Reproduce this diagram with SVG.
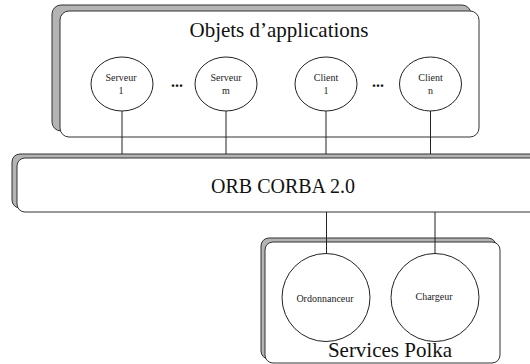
<svg xmlns="http://www.w3.org/2000/svg" width="530" height="364" viewBox="0 0 530 364">
<style>
.shadow{fill:#b4b4b4;stroke:#333;stroke-width:1}
.front{fill:#fff;stroke:#333;stroke-width:1}
.node{fill:#fff;stroke:#222;stroke-width:1}
.conn{stroke:#222;stroke-width:1;fill:none}
.big{font-family:"Liberation Serif","Times New Roman",serif;font-size:21px;fill:#111;text-anchor:middle}
.small{font-family:"Liberation Serif","Times New Roman",serif;font-size:10px;fill:#222;text-anchor:middle}
.dots{font-family:"Liberation Serif","Times New Roman",serif;font-size:16px;font-weight:bold;fill:#111;text-anchor:middle}
</style>
<rect width="530" height="364" fill="#fff"/>
<g id="objets-applications">
<rect class="shadow" x="52" y="5" width="419" height="126" rx="9"/>
<rect class="front" x="60" y="11" width="419" height="126" rx="9"/>
<text class="big" x="279" y="37">Objets d’applications</text>
<text class="dots" x="177" y="87">...</text>
<text class="dots" x="378" y="87">...</text>
</g>
<g id="orb">
<rect class="shadow" x="12" y="154" width="530" height="54" rx="8"/>
<rect class="front" x="17" y="158" width="530" height="54" rx="8"/>
<text class="big" x="283" y="193" style="font-size:20px">ORB CORBA 2.0</text>
</g>
<g id="services-polka">
<rect class="shadow" x="261" y="238" width="235" height="121" rx="8"/>
<rect class="front" x="265" y="242" width="235" height="121" rx="8"/>
<text class="big" x="390" y="357">Services Polka</text>
</g>
<g id="connectors">
<line class="conn" x1="122" y1="111" x2="122" y2="154"/>
<line class="conn" x1="226" y1="111" x2="226" y2="154"/>
<line class="conn" x1="326" y1="111" x2="326" y2="154"/>
<line class="conn" x1="430.5" y1="111" x2="430.5" y2="154"/>
<line class="conn" x1="326.5" y1="212" x2="326.5" y2="253"/>
<line class="conn" x1="435" y1="212" x2="435" y2="254"/>
</g>
<g id="serveur-1">
<ellipse class="node" cx="122" cy="84" rx="31" ry="27"/>
<text class="small" x="121" y="81">Serveur</text>
<text class="small" x="121" y="94">1</text>
</g>
<g id="serveur-m">
<ellipse class="node" cx="226" cy="84" rx="31" ry="27"/>
<text class="small" x="226" y="81">Serveur</text>
<text class="small" x="226" y="94">m</text>
</g>
<g id="client-1">
<ellipse class="node" cx="326" cy="84" rx="31" ry="27"/>
<text class="small" x="326" y="81">Client</text>
<text class="small" x="326" y="94">1</text>
</g>
<g id="client-n">
<ellipse class="node" cx="430.5" cy="84" rx="31" ry="27"/>
<text class="small" x="430.5" y="81">Client</text>
<text class="small" x="430.5" y="94">n</text>
</g>
<g id="ordonnanceur">
<circle class="node" cx="326" cy="297.5" r="44"/>
<text class="small" x="325" y="302">Ordonnanceur</text>
</g>
<g id="chargeur">
<circle class="node" cx="435" cy="297.5" r="44"/>
<text class="small" x="434" y="300">Chargeur</text>
</g>
</svg>
